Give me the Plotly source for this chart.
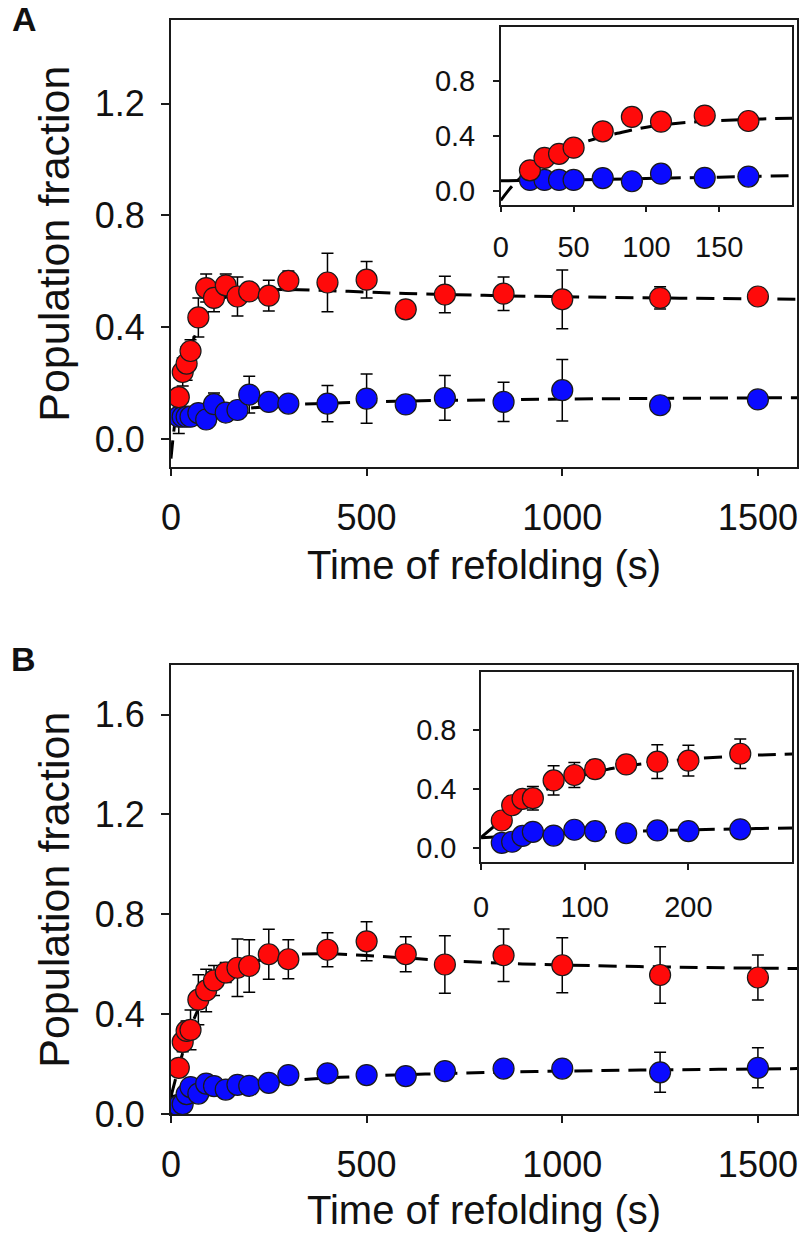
import plotly.graph_objects as go

# ---------------- data ----------------
times = [20, 30, 40, 50, 70, 90, 110, 140, 170, 200, 250, 300, 400, 500, 600, 700, 850, 1000, 1250, 1500]

A_red = [0.15, 0.24, 0.27, 0.315, 0.435, 0.54, 0.505, 0.55, 0.51, 0.528, 0.513, 0.566, 0.56, 0.57, 0.464, 0.517, 0.52, 0.50, 0.505, 0.51]
A_red_err = [0.03, 0.05, 0.06, 0.04, 0.07, 0.05, 0.05, 0.04, 0.07, 0.03, 0.055, 0.035, 0.105, 0.065, 0.0, 0.065, 0.06, 0.105, 0.04, 0.0]
A_blue = [0.08, 0.08, 0.08, 0.08, 0.093, 0.07, 0.125, 0.095, 0.104, 0.159, 0.133, 0.127, 0.127, 0.145, 0.124, 0.147, 0.133, 0.175, 0.121, 0.142]
A_blue_err = [0.06, 0.03, 0.03, 0.03, 0.03, 0.03, 0.04, 0.03, 0.03, 0.066, 0.0, 0.0, 0.065, 0.088, 0.0, 0.08, 0.07, 0.11, 0.0, 0.0]

B_red = [0.185, 0.289, 0.333, 0.337, 0.458, 0.495, 0.535, 0.567, 0.586, 0.593, 0.64, 0.62, 0.658, 0.692, 0.64, 0.599, 0.636, 0.596, 0.557, 0.547]
B_red_err = [0.03, 0.04, 0.04, 0.08, 0.10, 0.085, 0.06, 0.04, 0.115, 0.105, 0.10, 0.078, 0.068, 0.078, 0.07, 0.115, 0.105, 0.11, 0.113, 0.09]
B_blue = [0.033, 0.04, 0.08, 0.108, 0.082, 0.122, 0.112, 0.098, 0.117, 0.113, 0.125, 0.156, 0.163, 0.156, 0.152, 0.172, 0.182, 0.182, 0.167, 0.185]
B_blue_err = [0, 0, 0, 0, 0, 0, 0, 0, 0, 0, 0, 0, 0, 0, 0, 0, 0, 0, 0.08, 0.08]

# fitted curves
fitA_red_t = [0, 5, 10, 15, 20, 30, 40, 50, 60, 70, 80, 90, 100, 120, 140, 170, 200, 250, 300, 400, 500, 600, 800, 1000, 1300, 1600]
fitA_red = [-0.07, 0.0, 0.06, 0.11, 0.155, 0.23, 0.285, 0.33, 0.365, 0.395, 0.42, 0.445, 0.465, 0.492, 0.508, 0.522, 0.53, 0.534, 0.535, 0.531, 0.526, 0.521, 0.514, 0.509, 0.504, 0.50]
fitA_blue_t = [0, 50, 100, 150, 200, 300, 400, 500, 600, 800, 1000, 1300, 1600]
fitA_blue = [0.073, 0.08, 0.09, 0.10, 0.11, 0.122, 0.128, 0.132, 0.136, 0.14, 0.143, 0.146, 0.148]

fitB_red_t = [0, 10, 20, 30, 40, 50, 60, 70, 80, 90, 100, 120, 140, 170, 200, 250, 300, 400, 500, 600, 700, 850, 1000, 1300, 1600]
fitB_red = [0.07, 0.13, 0.19, 0.245, 0.30, 0.345, 0.385, 0.42, 0.45, 0.475, 0.497, 0.53, 0.556, 0.583, 0.603, 0.625, 0.638, 0.642, 0.635, 0.625, 0.615, 0.604, 0.597, 0.588, 0.583]
fitB_blue_t = [0, 25, 50, 100, 150, 200, 300, 400, 500, 650, 800, 1000, 1200, 1400, 1600]
fitB_blue = [0.068, 0.078, 0.088, 0.103, 0.113, 0.121, 0.134, 0.144, 0.152, 0.16, 0.166, 0.172, 0.176, 0.179, 0.182]

x_ticks_main = [0, 500, 1000, 1500]
yA_ticks = [0.0, 0.4, 0.8, 1.2]
yB_ticks = [0.0, 0.4, 0.8, 1.2, 1.6]
insetA_xticks = [0, 50, 100, 150]
insetB_xticks = [0, 100, 200]
inset_yticks = [0.0, 0.4, 0.8]

# ---------------- styling ----------------
W, H = 800, 1254
FONT = "Liberation Sans, Arial, sans-serif"
RED = "#ff0a0a"
BLUE = "#0a0aff"
EDGE = "#1a1a1a"
DASH = "18px,9px"


def px_x(a, b):
    return [a / W, b / W]


def px_y(top, bottom):
    return [1 - bottom / H, 1 - top / H]


fig = go.Figure()


def add_panel(xa, ya, fit_r_t, fit_r, fit_b_t, fit_b, red, red_err, blue, blue_err, tmax=None, show_err=True):
    if tmax is None:
        idx = list(range(len(times)))
    else:
        idx = [i for i, t in enumerate(times) if t < tmax]
    tt = [times[i] for i in idx]
    fig.add_trace(go.Scatter(x=fit_r_t, y=fit_r, mode="lines", line=dict(color="black", width=3, dash=DASH),
                             line_shape="spline", xaxis=xa, yaxis=ya, showlegend=False, hoverinfo="skip"))
    fig.add_trace(go.Scatter(x=fit_b_t, y=fit_b, mode="lines", line=dict(color="black", width=3, dash=DASH),
                             line_shape="spline", xaxis=xa, yaxis=ya, showlegend=False, hoverinfo="skip"))
    for vals, errs, col in ((blue, blue_err, BLUE), (red, red_err, RED)):
        fig.add_trace(go.Scatter(
            x=tt, y=[vals[i] for i in idx], mode="markers",
            marker=dict(size=21, color=col, line=dict(color=EDGE, width=1.2)),
            error_y=dict(type="data", array=[errs[i] for i in idx], visible=show_err,
                         color="black", thickness=1.5, width=6),
            xaxis=xa, yaxis=ya, showlegend=False))


# Panel A main + inset
add_panel("x", "y", fitA_red_t, fitA_red, fitA_blue_t, fitA_blue, A_red, A_red_err, A_blue, A_blue_err)
add_panel("x2", "y2", fitA_red_t, fitA_red, fitA_blue_t, fitA_blue, A_red, A_red_err, A_blue, A_blue_err,
          tmax=200, show_err=False)
# Panel B main + inset
add_panel("x3", "y3", fitB_red_t, fitB_red, fitB_blue_t, fitB_blue, B_red, B_red_err, B_blue, B_blue_err)
add_panel("x4", "y4", fitB_red_t, fitB_red, fitB_blue_t, fitB_blue, B_red, B_red_err, B_blue, B_blue_err,
          tmax=300, show_err=True)


def axis(domain, rng, tickvals, fmt, anchor, fsize, ticklen, standoff, lw):
    return dict(domain=domain, range=rng, tickvals=tickvals, tickformat=fmt, anchor=anchor,
                showgrid=False, zeroline=False, showline=True, mirror=True, linecolor="#1a1a1a",
                linewidth=lw, ticks="outside", ticklen=ticklen, tickwidth=lw, tickcolor="#1a1a1a",
                tickfont=dict(family=FONT, size=fsize, color="#111"), ticklabelstandoff=standoff,
                fixedrange=True)


fig.update_layout(
    width=W, height=H, margin=dict(l=0, r=0, t=0, b=0),
    paper_bgcolor="white", plot_bgcolor="white", showlegend=False,
    xaxis=axis(px_x(163, 797), [0, 1600], x_ticks_main, "d", "y", 36, 7, 11, 1.8),
    yaxis=axis(px_y(20, 475), [-0.1, 1.5], yA_ticks, ".1f", "x", 36, 8, 9, 1.8),
    xaxis2=axis(px_x(497, 792), [0, 200], insetA_xticks, "d", "y2", 29, 6, 10, 1.5),
    yaxis2=axis(px_y(27, 208), [-0.1, 1.2], inset_yticks, ".1f", "x2", 29, 6, 12, 1.5),
    xaxis3=axis(px_x(163, 797), [0, 1600], x_ticks_main, "d", "y3", 36, 7, 11, 1.8),
    yaxis3=axis(px_y(676, 1133), [0, 1.8], yB_ticks, ".1f", "x3", 36, 8, 9, 1.8),
    xaxis4=axis(px_x(477, 792), [0, 300], insetB_xticks, "d", "y4", 29, 6, 12, 1.5),
    yaxis4=axis(px_y(683, 877), [-0.1, 1.2], inset_yticks, ".1f", "x4", 29, 6, 11, 1.5),
)

ann = []
for letter, cx, cy in (("A", 15, 19), ("B", 14, 670)):
    ann.append(dict(text="<b>%s</b>" % letter, x=cx / W, y=1 - cy / H, xref="paper", yref="paper",
                    xanchor="center", yanchor="middle", showarrow=False,
                    font=dict(family=FONT, size=34, color="#111")))
for cy in (247.5, 904.5):
    ann.append(dict(text="Population fraction", textangle=-90, x=45 / W, y=1 - cy / H,
                    xref="paper", yref="paper", xanchor="center", yanchor="middle", showarrow=False,
                    font=dict(family=FONT, size=43, color="#111")))
for cy in (575, 1231):
    ann.append(dict(text="Time of refolding (s)", x=480 / W, y=1 - cy / H,
                    xref="paper", yref="paper", xanchor="center", yanchor="middle", showarrow=False,
                    font=dict(family=FONT, size=40, color="#111")))
fig.update_layout(annotations=ann)

fig.write_html("out.html", config={"displayModeBar": False},
               post_script="document.body.style.margin='0';document.body.style.padding='0';")
